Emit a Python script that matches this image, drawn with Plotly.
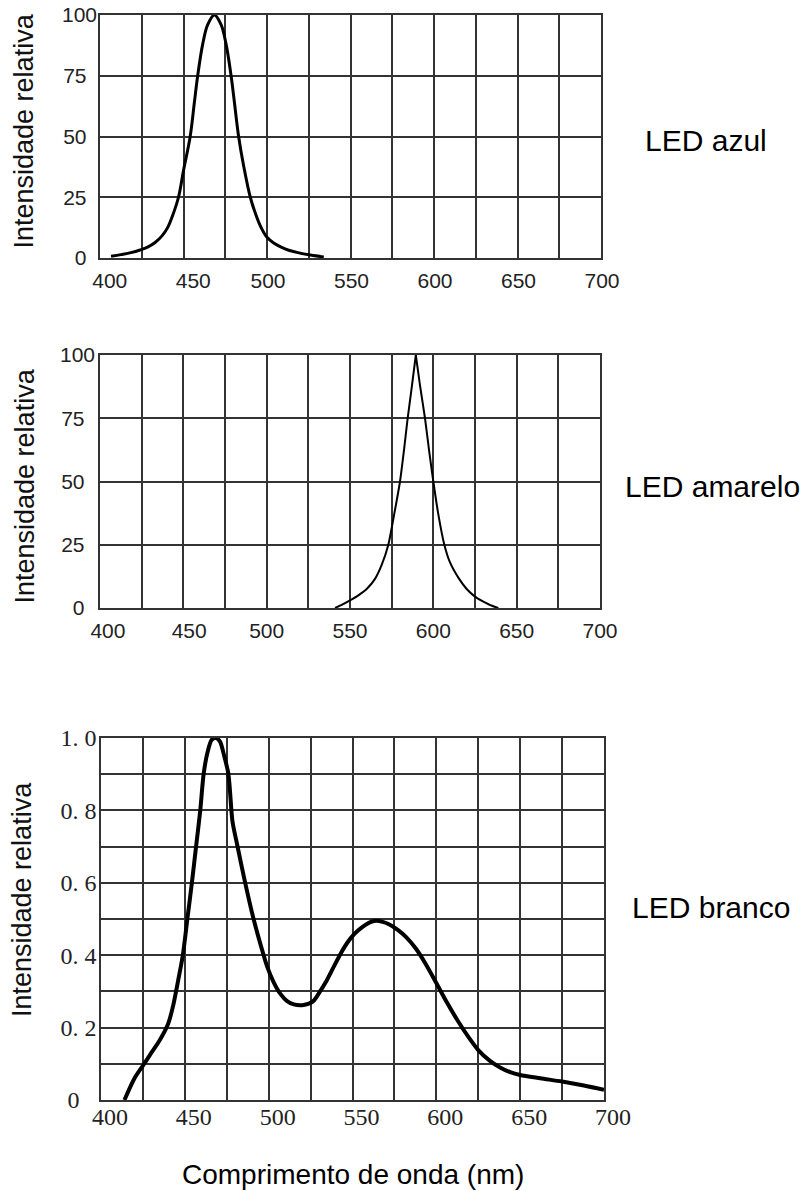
import plotly.graph_objects as go

W, H = 808, 1191

# ---------------- data ----------------
blue_nm = [406.6, 412.5, 418.5, 424, 428.5, 433, 437, 440.5, 443.5, 447, 450, 454, 456.5,
           458.5, 461.5, 464.5, 468.5, 472.5, 475.5, 478.5, 480.5, 483, 486, 490, 493.5,
           496.5, 500, 504, 508.5, 513, 518.5, 526, 534]
blue_int = [0.7, 1.4, 2.2, 3.3, 4.5, 6.4, 9, 12.5, 17.5, 25, 36, 50, 64,
            75, 88, 96, 100, 96, 88, 75, 64, 50, 38, 25, 17.5,
            12.5, 8.5, 6.2, 4.5, 3.2, 2.2, 1.2, 0.4]

yellow_nm = [541, 545, 550, 555, 560, 565, 569, 573, 576.5, 580, 582.5, 584.6, 587,
             589.5, 592, 595, 597.5, 600, 603, 606.6, 610, 615, 620, 625, 630, 634, 639]
yellow_int = [0, 1.2, 3, 5, 7.5, 11.5, 17, 25, 37, 50, 63, 75, 87,
              100, 88, 75, 62, 50, 37, 25, 18, 12, 7.5, 4.5, 2.5, 1.2, 0]
yellow_peak_index = 13

white_nm = [414, 420, 425, 430, 435, 440, 443, 446, 448.8, 451.5, 454.2, 456.7, 459.2,
            461.2, 463.5, 466, 468.6, 471, 473.5, 476, 478.4, 481, 486, 491, 497, 499,
            503, 507, 511, 515, 520, 524, 527, 530, 534, 539, 543, 547, 551, 556,
            560, 564, 568, 572, 577, 582, 588, 594, 600, 606, 612.5, 619, 625, 632,
            638, 644, 650, 662, 675, 688, 700]
white_int = [0, 0.06, 0.095, 0.13, 0.165, 0.21, 0.26, 0.33, 0.4, 0.5, 0.6, 0.7, 0.8,
             0.9, 0.96, 0.995, 1.0, 0.99, 0.95, 0.9, 0.77, 0.71, 0.6, 0.5, 0.4, 0.37,
             0.325, 0.293, 0.273, 0.264, 0.262, 0.266, 0.275, 0.295, 0.325, 0.37, 0.405, 0.435, 0.458, 0.478,
             0.49, 0.495, 0.492, 0.485, 0.47, 0.45, 0.417, 0.373, 0.323, 0.272, 0.221, 0.175, 0.138, 0.108,
             0.09, 0.077, 0.069, 0.06, 0.051, 0.04, 0.028]

x_tick_vals = [400, 425, 450, 475, 500, 525, 550, 575, 600, 625, 650, 675, 700]
x_tick_text_1 = ["\u2007\u2008400", "", "\u2007\u2008450", "", "500", "", "550", "", "600", "",
                 "650", "", "700"]
x_tick_text_2 = ["\u2007\u2009400", "", "\u2007450", "", "500", "", "550", "", "600", "",
                 "650", "", "700"]
x_tick_text_3 = ["400", "", "450", "", "500", "", "550", "", "600", "", "650", "", "700"]
pct_tick_vals = [0, 25, 50, 75, 100]
pct_tick_text = ["0\u2002", "25\u2002", "50\u2002", "75\u2002", "100"]
frac_tick_vals = [0, 0.1, 0.2, 0.3, 0.4, 0.5, 0.6, 0.7, 0.8, 0.9, 1.0]
frac_tick_text = ["0\u2002\u2009", "", "0. 2", "", "0. 4", "", "0. 6", "", "0. 8", "", "1. 0"]

panel_labels = ["LED azul", "LED amarelo", "LED branco"]
y_title = "Intensidade relativa"
x_title = "Comprimento de onda (nm)"

# ---------------- layout helpers (pixel boxes) ----------------
def dx(a, b):
    return [a / W, b / W]

def dy(top, bottom):
    return [1 - bottom / H, 1 - top / H]

SANS = "Liberation Sans, Arial, sans-serif"
SERIF = "Liberation Serif, Times New Roman, serif"
GRID = "#333333"

fig = go.Figure()

fig.add_trace(go.Scatter(x=blue_nm, y=blue_int, mode="lines", xaxis="x", yaxis="y",
                         line=dict(color="black", width=3, shape="spline", smoothing=1.0),
                         showlegend=False, hoverinfo="skip"))
# yellow: two smooth flanks meeting in a sharp peak
k = yellow_peak_index
fig.add_trace(go.Scatter(x=yellow_nm[:k + 1], y=yellow_int[:k + 1], mode="lines",
                         xaxis="x2", yaxis="y2",
                         line=dict(color="black", width=2, shape="spline", smoothing=0.6),
                         showlegend=False, hoverinfo="skip"))
fig.add_trace(go.Scatter(x=yellow_nm[k:], y=yellow_int[k:], mode="lines",
                         xaxis="x2", yaxis="y2",
                         line=dict(color="black", width=2, shape="spline", smoothing=0.6),
                         showlegend=False, hoverinfo="skip"))
fig.add_trace(go.Scatter(x=white_nm, y=white_int, mode="lines", xaxis="x3", yaxis="y3",
                         line=dict(color="black", width=4, shape="spline", smoothing=0.8),
                         showlegend=False, hoverinfo="skip"))

def xaxis(domain, anchor, text, font, shift=0, standoff=0, lw=1.5):
    return dict(domain=domain, anchor=anchor, range=[400, 700], tickmode="array",
                tickvals=x_tick_vals, ticktext=text, ticks="",
                showgrid=True, gridcolor=GRID, gridwidth=lw, zeroline=False,
                showline=True, linecolor=GRID, linewidth=lw, mirror=True,
                tickfont=font, automargin=False, ticklabelshift=shift,
                ticklabelstandoff=standoff)

def yaxis(domain, anchor, rng, vals, text, font, standoff=0, lw=1.5):
    return dict(domain=domain, anchor=anchor, range=rng, tickmode="array",
                tickvals=vals, ticktext=text, ticks="",
                showgrid=True, gridcolor=GRID, gridwidth=lw, zeroline=False,
                showline=True, linecolor=GRID, linewidth=lw, mirror=True,
                tickfont=font, automargin=False, ticklabelstandoff=standoff)

sans_tick = dict(family=SANS, size=21, color="#222222")
serif_tick = dict(family=SERIF, size=24, color="#222222")

fig.update_layout(
    width=W, height=H, margin=dict(l=0, r=0, t=0, b=0),
    paper_bgcolor="white", plot_bgcolor="white", template="none",
    showlegend=False,
    xaxis=xaxis(dx(100, 601), "y", x_tick_text_1, sans_tick, shift=1, standoff=3),
    yaxis=yaxis(dy(15, 258), "x", [0, 100], pct_tick_vals, pct_tick_text, sans_tick, standoff=-3),
    xaxis2=xaxis(dx(100, 600), "y2", x_tick_text_2, sans_tick, shift=0, standoff=3),
    yaxis2=yaxis(dy(355, 608), "x2", [0, 100], pct_tick_vals, pct_tick_text, sans_tick, standoff=-1),
    xaxis3=xaxis(dx(101, 604), "y3", x_tick_text_3, serif_tick, shift=9, standoff=-6, lw=1.6),
    yaxis3=yaxis(dy(738, 1100), "x3", [0, 1.0], frac_tick_vals, frac_tick_text, serif_tick,
                 standoff=-2, lw=1.6),
)

annotations = []
label_pos = [(643, 140.6), (623, 486.6), (630, 907.6)]
for txt, (px, py) in zip(panel_labels, label_pos):
    annotations.append(dict(text=txt, x=px / W, y=1 - py / H, xref="paper", yref="paper",
                            xanchor="left", yanchor="middle", showarrow=False,
                            font=dict(family=SANS, size=30, color="black")))
for px, py in [(24, 131.5), (24, 486.5), (22, 900)]:
    annotations.append(dict(text=y_title, x=px / W, y=1 - py / H, xref="paper", yref="paper",
                            xanchor="center", yanchor="middle", textangle=-90,
                            showarrow=False,
                            font=dict(family=SANS, size=27, color="#111111")))
annotations.append(dict(text=x_title, x=353 / W, y=1 - 1174.5 / H, xref="paper", yref="paper",
                        xanchor="center", yanchor="middle", showarrow=False,
                        font=dict(family=SANS, size=28, color="black")))
fig.update_layout(annotations=annotations)

fig.write_html("out.html")
